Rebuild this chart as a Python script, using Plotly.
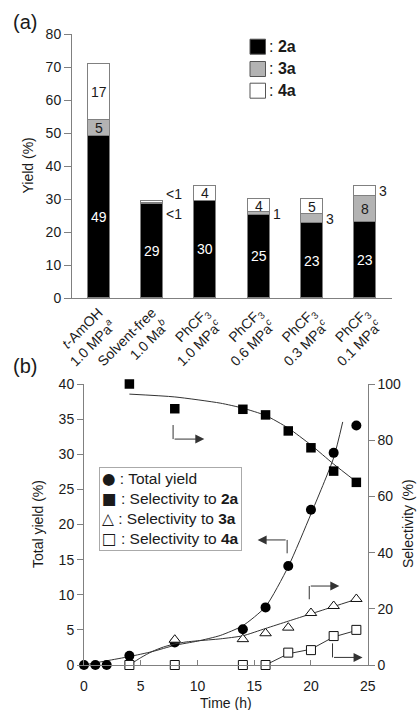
import plotly.graph_objects as go

W, H = 417, 710

# ---------------- (a) data ----------------
conditions = ["<i>t</i>-AmOH<br>1.0 MPa<sup><i>a</i></sup>",
              "Solvent-free<br>1.0 Ma<sup><i>b</i></sup>",
              "PhCF<sub>3</sub><br>1.0 MPa<sup><i>c</i></sup>",
              "PhCF<sub>3</sub><br>0.6 MPa<sup><i>c</i></sup>",
              "PhCF<sub>3</sub><br>0.3 MPa<sup><i>c</i></sup>",
              "PhCF<sub>3</sub><br>0.1 MPa<sup><i>c</i></sup>"]
yield_2a = [49, 28.5, 29.5, 25.2, 22.6, 23.0]
yield_3a = [5, 0.4, 0, 0.8, 2.8, 8.0]
yield_4a = [17, 0.4, 4.5, 4.0, 4.6, 3.0]
label_2a = ["49", "29", "30", "25", "23", "23"]
label_3a = ["5", "<1", "", "1", "3", "8"]
label_4a = ["17", "<1", "4", "4", "5", "3"]
y_ticks_a = [0, 10, 20, 30, 40, 50, 60, 70, 80]

# ---------------- (b) data ----------------
time_total = [0, 1, 2, 4, 8, 14, 16, 18, 20, 22, 24]
total_yield = [0, 0, 0, 1.3, 3.2, 5.1, 8.2, 14.1, 22.1, 30.2, 34.1]
time_2a = [4, 8, 14, 16, 18, 20, 22, 24]
sel_2a = [100, 91.2, 91, 89, 83.3, 77.3, 69, 65]
time_3a = [8, 14, 16, 18, 20, 22, 24]
sel_3a = [9.0, 9.2, 11.3, 13.3, 18.5, 21, 23.5]
time_4a = [4, 8, 14, 16, 18, 20, 22, 24]
sel_4a = [0, 0, 0, 0, 4.4, 5.3, 10.3, 12.5]

# fitted guide curves
fit_total_t = [0, 2, 4, 6, 8, 10, 12, 14, 16, 18, 20, 22, 22.8]
fit_total_y = [0, 0.6, 1.2, 1.9, 2.8, 3.4, 4.2, 5.6, 8.3, 14.0, 21.5, 29.5, 34.6]
fit_2a_t = [4, 8, 12, 14, 16, 18, 20, 22, 24]
fit_2a_y = [96.4, 95.4, 93.2, 91.4, 88.8, 84.3, 78.3, 71.5, 65.2]
fit_3a_t = [4, 5, 6, 7, 8, 9, 10, 12, 14, 16, 18, 20, 22, 24]
fit_3a_y = [0, 2.6, 4.8, 6.4, 7.5, 8.2, 8.6, 9.3, 10.4, 13.0, 15.6, 18.2, 20.8, 23.4]
fit_4a_t = [16, 18, 20, 22, 24]
fit_4a_y = [0, 4.0, 5.6, 10.0, 12.3]

# ---------------- helpers ----------------
def px(x):
    return x / W

def py(y):
    return 1 - y / H

FONT = "Liberation Sans, Arial, Helvetica, sans-serif"
TXT = "#1a1a1a"
AX = "#808080"
LINE = "#333333"

fig = go.Figure()

# ---------------- (a) bars ----------------
idx = list(range(len(conditions)))
bar_w = 0.41
series = [(yield_2a, "#000000", label_2a, "white"),
          (yield_3a, "#b3b3b3", label_3a, TXT),
          (yield_4a, "#ffffff", label_4a, TXT)]
for vals, col, _, _ in series:
    fig.add_trace(go.Bar(x=idx, y=vals, width=bar_w,
                         marker=dict(color=col, line=dict(color=AX, width=1)),
                         showlegend=False, xaxis="x", yaxis="y",
                         hoverinfo="skip"))

annotations = []
base = [0.0] * len(idx)
outside = {}
for s, (vals, col, labs, tcol) in enumerate(series):
    for i, v in enumerate(vals):
        mid = base[i] + v / 2
        if labs[i]:
            if v >= 3.5:
                annotations.append(dict(x=i, y=mid, xref="x", yref="y", text=labs[i],
                                        yanchor="middle", showarrow=False,
                                        font=dict(size=14, color=tcol, family=FONT)))
            else:
                outside.setdefault(i, []).append((s, mid, labs[i]))
        base[i] += v
for i, items in outside.items():
    for s, mid, lab in items:
        ysh = 0
        if len(items) > 1:
            ysh = -11 if s == 1 else 8
        annotations.append(dict(x=i + bar_w / 2, y=mid, xref="x", yref="y", text=lab,
                                xanchor="left", yanchor="middle", xshift=1, yshift=ysh,
                                showarrow=False, font=dict(size=14, color=TXT, family=FONT)))

# ---------------- (b) curves and points ----------------
fig.add_trace(go.Scatter(x=fit_total_t, y=fit_total_y, mode="lines", line=dict(color=LINE, width=1, shape="spline", smoothing=0.6),
                         xaxis="x2", yaxis="y2", showlegend=False, hoverinfo="skip"))
fig.add_trace(go.Scatter(x=fit_2a_t, y=fit_2a_y, mode="lines", line=dict(color=LINE, width=1, shape="spline", smoothing=0.6),
                         xaxis="x2", yaxis="y3", showlegend=False, hoverinfo="skip"))
fig.add_trace(go.Scatter(x=fit_3a_t, y=fit_3a_y, mode="lines", line=dict(color=LINE, width=1, shape="spline", smoothing=0.6),
                         xaxis="x2", yaxis="y3", showlegend=False, hoverinfo="skip"))
fig.add_trace(go.Scatter(x=fit_4a_t, y=fit_4a_y, mode="lines", line=dict(color=LINE, width=1),
                         xaxis="x2", yaxis="y3", showlegend=False, hoverinfo="skip"))

fig.add_trace(go.Scatter(x=time_total, y=total_yield, mode="markers", cliponaxis=False,
                         marker=dict(symbol="circle", size=10, color="#000000", line=dict(width=0)),
                         xaxis="x2", yaxis="y2", showlegend=False))
fig.add_trace(go.Scatter(x=time_2a, y=sel_2a, mode="markers", cliponaxis=False,
                         marker=dict(symbol="square", size=9.5, color="#000000", line=dict(width=0)),
                         xaxis="x2", yaxis="y3", showlegend=False))
fig.add_trace(go.Scatter(x=time_3a, y=sel_3a, mode="markers", cliponaxis=False,
                         marker=dict(symbol="triangle-up", size=10, color="white", line=dict(color="#111", width=1)),
                         xaxis="x2", yaxis="y3", showlegend=False))
fig.add_trace(go.Scatter(x=time_4a, y=sel_4a, mode="markers", cliponaxis=False,
                         marker=dict(symbol="square", size=9, color="white", line=dict(color="#111", width=1)),
                         xaxis="x2", yaxis="y3", showlegend=False))

# ---------------- arrows in (b) ----------------
shapes = []
arrows = [  # (x_vertical, y_start, y_corner, x_head, yaxis)
    (7.85, 85.4, 80.4, 10.6, "y3"),
    (17.9, 15.9, 17.8, 15.3, "y2"),
    (19.85, 23.4, 28.1, 22.5, "y3"),
    (21.9, 7.7, 2.7, 24.55, "y3"),
]
for xv, ys, yc, xh, ya in arrows:
    shapes.append(dict(type="line", xref="x2", yref=ya, x0=xv, x1=xv, y0=ys, y1=yc,
                       line=dict(color=LINE, width=1)))
    annotations.append(dict(x=xh, y=yc, ax=xv, ay=yc, xref="x2", yref=ya, axref="x2", ayref=ya,
                            showarrow=True, arrowhead=2, arrowsize=1.8, arrowwidth=1,
                            arrowcolor=LINE, text=""))

# ---------------- legend (a) ----------------
leg_a = [("#000000", "2a", 46.7), ("#b3b3b3", "3a", 69.0), ("#ffffff", "4a", 90.7)]
for col, name, yc in leg_a:
    shapes.append(dict(type="rect", xref="paper", yref="paper",
                       x0=px(250), x1=px(265.5), y0=py(yc - 7.5), y1=py(yc + 7.5),
                       fillcolor=col, line=dict(color="#555", width=1)))
    annotations.append(dict(x=px(267), y=py(yc), xref="paper", yref="paper",
                            xanchor="left", yanchor="middle",
                            text=": <b>" + name + "</b>", showarrow=False,
                            font=dict(size=16, color=TXT, family=FONT)))

# ---------------- legend (b) ----------------
G = "<span style='font-family:DejaVu Sans'>%s</span>"
leg_b = (G % "●" + " : Total yield<br>" + G % "■" + " : Selectivity to <b>2a</b><br>"
         + G % "△" + " : Selectivity to <b>3a</b><br>" + G % "□" + " : Selectivity to <b>4a</b>")
annotations.append(dict(x=px(98.5), y=py(466.5), xref="paper", yref="paper", xanchor="left", yanchor="top",
                        text=leg_b, align="left", showarrow=False, bgcolor="white",
                        bordercolor="#aaaaaa", borderwidth=1, borderpad=2,
                        font=dict(size=15.5, color=TXT, family=FONT)))

# ---------------- panel labels / axis titles ----------------
def lab(x, y, text, size=14, angle=0):
    return dict(x=px(x), y=py(y), xref="paper", yref="paper", text=text, textangle=angle,
                xanchor="center", yanchor="middle", showarrow=False,
                font=dict(size=size, color=TXT, family=FONT))

annotations += [
    lab(25, 22, "(a)", 20),
    lab(25, 366, "(b)", 20),
    lab(27.5, 166, "Yield (%)", 14, -90),
    lab(38, 524, "Total yield (%)", 14, -90),
    lab(408, 524, "Selectivity (%)", 14, -90),
    lab(226, 703, "Time (h)", 14),
]

tickfont = dict(size=14, color=TXT, family=FONT)
fig.update_layout(
    width=W, height=H, margin=dict(l=0, r=0, t=0, b=0),
    paper_bgcolor="white", plot_bgcolor="white",
    barmode="stack", bargap=0, showlegend=False,
    font=dict(family=FONT, color=TXT),
    xaxis=dict(domain=[px(72), px(392)], range=[-0.5, 5.5], anchor="y",
               tickvals=idx, ticktext=conditions, tickangle=-45,
               tickfont=dict(size=14, color=TXT, family=FONT),
               showline=True, linecolor=AX, linewidth=1, ticks="", showgrid=False,
               zeroline=False, automargin=False, fixedrange=True),
    yaxis=dict(domain=[py(298), py(34)], range=[0, 80], anchor="x", tickvals=y_ticks_a,
               ticks="outside", ticklen=7, tickcolor=AX, showline=True, linecolor=AX,
               showgrid=False, zeroline=False, tickfont=tickfont, automargin=False),
    xaxis2=dict(domain=[px(84), px(367.7)], range=[0, 25], anchor="y2", dtick=5,
                ticks="inside", ticklen=5, tickcolor=AX, showline=True, linecolor=AX,
                showgrid=False, zeroline=False, tickfont=tickfont, automargin=False,
                ticklabelstandoff=8),
    yaxis2=dict(domain=[py(665), py(384)], range=[0, 40], anchor="x2", dtick=5,
                ticks="outside", ticklen=6, tickcolor=AX, showline=True, linecolor=AX,
                showgrid=False, zeroline=False, tickfont=tickfont, automargin=False),
    yaxis3=dict(domain=[py(665), py(384)], range=[0, 100], anchor="x2", overlaying="y2", side="right",
                dtick=20, ticks="outside", ticklen=6, tickcolor=AX, showline=True, linecolor=AX,
                showgrid=False, zeroline=False, tickfont=tickfont, automargin=False),
    annotations=annotations, shapes=shapes,
)

fig.write_html("out.html", config={"displayModeBar": False},
               post_script="document.body.style.margin='0';")
